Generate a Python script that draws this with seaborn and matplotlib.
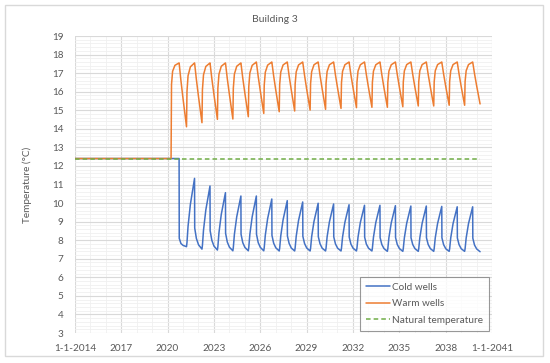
import numpy as np
import pandas as pd
import matplotlib
matplotlib.use("Agg")
import matplotlib.pyplot as plt
import seaborn as sns
from matplotlib.patches import Rectangle

# Data (temperatures in degrees C)
natural_temp = 12.4
start_year = 2014.0
end_time = 2040.23

# sample moments inside each year (fraction of the year)
sub_times = [0.01, 0.23, 0.26, 0.33, 0.48, 0.75, 0.76, 0.87]
years = list(range(2020, 2041))

# one row per year, one value per sub time
warm_wells = [
    [12.40, 12.40, 16.40, 17.10, 17.42, 17.55, 17.48, 16.59],  # 2020
    [15.59, 14.11, 16.00, 16.86, 17.34, 17.55, 17.49, 16.65],
    [15.71, 14.33, 16.10, 16.91, 17.36, 17.55, 17.49, 16.70],
    [15.82, 14.51, 16.18, 16.94, 17.37, 17.55, 17.49, 16.70],
    [15.83, 14.53, 16.19, 16.95, 17.37, 17.55, 17.49, 16.74],
    [15.90, 14.65, 16.27, 17.01, 17.42, 17.60, 17.54, 16.82],  # 2025
    [16.02, 14.83, 16.35, 17.05, 17.43, 17.60, 17.55, 16.85],
    [16.07, 14.92, 16.39, 17.06, 17.44, 17.60, 17.55, 16.86],
    [16.10, 14.96, 16.41, 17.07, 17.44, 17.60, 17.55, 16.88],
    [16.12, 15.01, 16.44, 17.08, 17.45, 17.60, 17.55, 16.89],
    [16.15, 15.05, 16.45, 17.09, 17.45, 17.60, 17.55, 16.90],  # 2030
    [16.18, 15.10, 16.48, 17.10, 17.45, 17.60, 17.55, 16.91],
    [16.20, 15.14, 16.49, 17.11, 17.45, 17.60, 17.55, 16.92],
    [16.21, 15.16, 16.50, 17.11, 17.45, 17.60, 17.55, 16.92],
    [16.21, 15.16, 16.50, 17.11, 17.45, 17.60, 17.55, 16.93],
    [16.23, 15.19, 16.52, 17.12, 17.46, 17.60, 17.55, 16.94],  # 2035
    [16.25, 15.23, 16.53, 17.13, 17.46, 17.60, 17.55, 16.94],
    [16.25, 15.23, 16.53, 17.13, 17.46, 17.60, 17.55, 16.95],
    [16.27, 15.27, 16.55, 17.13, 17.46, 17.60, 17.55, 16.95],
    [16.27, 15.27, 16.55, 17.13, 17.46, 17.60, 17.56, 16.97],
    [16.31, 15.34, None, None, None, None, None, None],        # 2040
]

cold_wells = [
    [12.40, 12.40, 12.40, 12.40, 12.40, 12.40, 8.10, 7.82],  # 2020
    [7.72, 7.65, 7.87, 8.75, 9.93, 11.33, 8.66, 8.09],
    [7.75, 7.52, 7.72, 8.54, 9.63, 10.92, 8.51, 7.99],
    [7.68, 7.47, 7.66, 8.40, 9.39, 10.56, 8.37, 7.90],
    [7.62, 7.43, 7.61, 8.32, 9.26, 10.38, 8.32, 7.87],
    [7.61, 7.43, 7.61, 8.32, 9.26, 10.38, 8.32, 7.87],  # 2025
    [7.61, 7.43, 7.60, 8.27, 9.16, 10.22, 8.26, 7.84],
    [7.59, 7.42, 7.58, 8.23, 9.10, 10.13, 8.23, 7.83],
    [7.58, 7.42, 7.58, 8.21, 9.06, 10.06, 8.21, 7.82],
    [7.58, 7.42, 7.57, 8.19, 9.01, 9.99, 8.19, 7.81],
    [7.57, 7.42, 7.57, 8.18, 8.99, 9.95, 8.18, 7.80],  # 2030
    [7.57, 7.42, 7.57, 8.17, 8.96, 9.91, 8.17, 7.79],
    [7.57, 7.42, 7.57, 8.16, 8.95, 9.88, 8.16, 7.79],
    [7.57, 7.42, 7.57, 8.16, 8.95, 9.88, 8.14, 7.77],
    [7.55, 7.40, 7.55, 8.14, 8.93, 9.86, 8.14, 7.77],
    [7.55, 7.40, 7.55, 8.13, 8.91, 9.84, 8.13, 7.77],  # 2035
    [7.55, 7.40, 7.55, 8.13, 8.91, 9.84, 8.13, 7.77],
    [7.55, 7.40, 7.55, 8.13, 8.90, 9.82, 8.13, 7.76],
    [7.54, 7.40, 7.54, 8.12, 8.89, 9.80, 8.12, 7.76],
    [7.54, 7.40, 7.54, 8.12, 8.89, 9.80, 8.11, 7.74],
    [7.53, 7.38, None, None, None, None, None, None],  # 2040
]

tick_years = [2014, 2017, 2020, 2023, 2026, 2029, 2032, 2035, 2038, 2041]
tick_labels = ["1-1-2014", "2017", "2020", "2023", "2026", "2029",
               "2032", "2035", "2038", "1-1-2041"]

# Build long table for seaborn
rows = []
for name, table in [("Cold wells", cold_wells), ("Warm wells", warm_wells)]:
    rows.append((start_year, natural_temp, name))
    for yr, vals in zip(years, table):
        for st, v in zip(sub_times, vals):
            if v is not None:
                rows.append((yr + st, v, name))
rows.append((start_year, natural_temp, "Natural temperature"))
rows.append((end_time, natural_temp, "Natural temperature"))
df = pd.DataFrame(rows, columns=["Date", "Temperature", "Series"])

sns.set_style("white")
plt.rcParams["font.family"] = ["Lato", "DejaVu Sans"]
text_col = "#595959"

fig = plt.figure(figsize=(5.5, 3.63), dpi=100)
ax = fig.add_axes([0.136, 0.0826, 0.7585, 0.8182])

palette = {"Cold wells": "#4472C4", "Warm wells": "#ED7D31",
           "Natural temperature": "#70AD47"}
dashes = {"Cold wells": "", "Warm wells": "", "Natural temperature": (3, 2)}
sns.lineplot(data=df, x="Date", y="Temperature", hue="Series", style="Series",
             palette=palette, dashes=dashes, estimator=None, sort=False,
             linewidth=1.1, ax=ax, legend=False)

ax.set_xlim(2014, 2041)
ax.set_ylim(3, 19)
ax.set_yticks(range(3, 20))
ax.set_yticks(np.arange(3, 19, 0.2), minor=True)
ax.set_xticks(tick_years)
ax.set_xticklabels(tick_labels)
ax.set_xticks(range(2014, 2042), minor=True)
ax.grid(which="major", color="#d9d9d9", linewidth=0.8, zorder=0)
ax.grid(which="minor", color="#f0f0f0", linewidth=0.6, zorder=0)
ax.set_axisbelow(True)
for s in ax.spines.values():
    s.set_visible(False)
ax.tick_params(which="both", length=0)
ax.tick_params(axis="x", pad=8, labelsize=7.2, labelcolor=text_col)
ax.tick_params(axis="y", pad=8, labelsize=7.2, labelcolor=text_col)
ax.set_xlabel("")
ax.set_ylabel("Temperature (°C)", fontsize=7.2, color=text_col)
ax.yaxis.set_label_coords(-0.103, 0.5)

# legend
from matplotlib.lines import Line2D
handles = [Line2D([], [], color=palette[k], lw=1.1,
                  linestyle="--" if k == "Natural temperature" else "-",
                  dashes=(3, 2) if k == "Natural temperature" else (None, None))
           for k in palette]
leg = ax.legend(handles, list(palette), loc="lower right", fontsize=7.2,
                frameon=True, fancybox=False, borderaxespad=0.25,
                handlelength=2.4, handletextpad=0.2, labelspacing=0.75,
                borderpad=0.6)
leg.get_frame().set_edgecolor("#7f7f7f")
leg.get_frame().set_linewidth(0.8)
for t in leg.get_texts():
    t.set_color(text_col)

fig.text(0.5, 0.947, "Building 3", ha="center", va="center",
         fontsize=7.5, color=text_col)
fig.patches.append(Rectangle((0.009, 0.019), 0.978, 0.967, transform=fig.transFigure,
                             fill=False, edgecolor="#d9d9d9", linewidth=1))

fig.savefig("out.png", dpi=100)
